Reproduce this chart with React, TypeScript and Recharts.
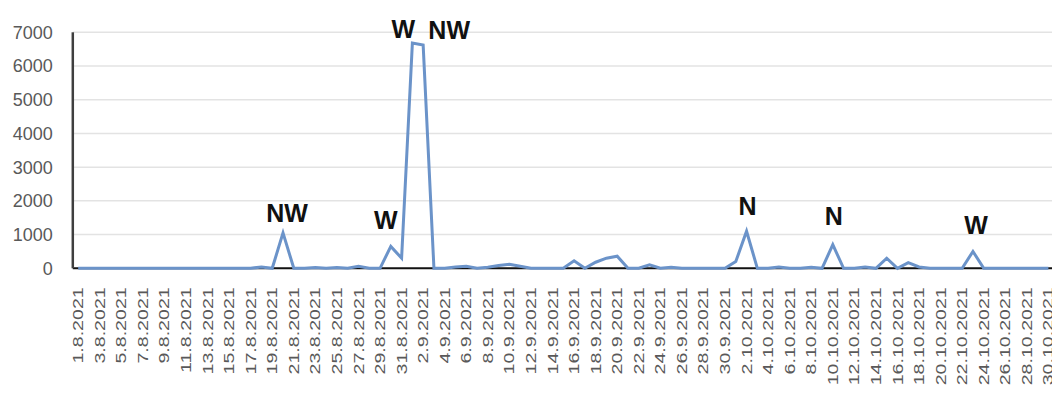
import { CartesianGrid, LabelList, Line, LineChart, XAxis, YAxis } from "recharts";

const days = [
  "1.8.2021", "2.8.2021", "3.8.2021", "4.8.2021", "5.8.2021", "6.8.2021", "7.8.2021", "8.8.2021",
  "9.8.2021", "10.8.2021", "11.8.2021", "12.8.2021", "13.8.2021", "14.8.2021", "15.8.2021", "16.8.2021",
  "17.8.2021", "18.8.2021", "19.8.2021", "20.8.2021", "21.8.2021", "22.8.2021", "23.8.2021", "24.8.2021",
  "25.8.2021", "26.8.2021", "27.8.2021", "28.8.2021", "29.8.2021", "30.8.2021", "31.8.2021",
  "1.9.2021", "2.9.2021", "3.9.2021", "4.9.2021", "5.9.2021", "6.9.2021", "7.9.2021", "8.9.2021",
  "9.9.2021", "10.9.2021", "11.9.2021", "12.9.2021", "13.9.2021", "14.9.2021", "15.9.2021", "16.9.2021",
  "17.9.2021", "18.9.2021", "19.9.2021", "20.9.2021", "21.9.2021", "22.9.2021", "23.9.2021", "24.9.2021",
  "25.9.2021", "26.9.2021", "27.9.2021", "28.9.2021", "29.9.2021", "30.9.2021",
  "1.10.2021", "2.10.2021", "3.10.2021", "4.10.2021", "5.10.2021", "6.10.2021", "7.10.2021", "8.10.2021",
  "9.10.2021", "10.10.2021", "11.10.2021", "12.10.2021", "13.10.2021", "14.10.2021", "15.10.2021",
  "16.10.2021", "17.10.2021", "18.10.2021", "19.10.2021", "20.10.2021", "21.10.2021", "22.10.2021",
  "23.10.2021", "24.10.2021", "25.10.2021", "26.10.2021", "27.10.2021", "28.10.2021", "29.10.2021",
  "30.10.2021",
];

// daily values
const augValues = [
  0, 0, 0, 0, 0, 0, 0, 0, 0, 0, 0, 0, 0, 0, 0, 0,
  0, 40, 0, 1050, 0, 0, 20, 0, 20, 0, 60, 0, 0, 650, 300,
];
const sepValues = [
  6680, 6620, 0, 0, 40, 60, 0, 30, 80, 120, 60, 0, 0, 0, 0,
  220, 0, 180, 300, 360, 0, 0, 100, 0, 30, 0, 0, 0, 0, 0,
];
const octValues = [
  200, 1100, 0, 0, 40, 0, 0, 30, 0, 700, 0, 0, 40, 0, 300,
  0, 170, 40, 0, 0, 0, 0, 500, 0, 0, 0, 0, 0, 0, 0,
];

const yTicks = [0, 1000, 2000, 3000, 4000, 5000, 6000, 7000];

// wind direction notes written over some peaks
const noteDays = ["20.8.2021", "30.8.2021", "1.9.2021", "2.9.2021", "2.10.2021", "10.10.2021", "23.10.2021"];
const noteTexts = ["NW", "W", "W", "NW", "N", "N", "W"];

const noteShift: Record<string, [number, number]> = {
  "20.8.2021": [4, -11],
  "30.8.2021": [-5, -17],
  "1.9.2021": [-9, -5],
  "2.9.2021": [26, -6],
  "2.10.2021": [1, -16],
  "10.10.2021": [1, -20],
  "23.10.2021": [3, -17],
};

const values = [...augValues, ...sepValues, ...octValues];

const data = days.map((day, i) => {
  const n = noteDays.indexOf(day);
  return { day, value: values[i], note: n >= 0 ? noteTexts[n] : "" };
});

const FONT = "'Liberation Sans', Arial, sans-serif";

function DayTick({ x, y, payload }: { x?: number; y?: number; payload?: { value: string } }) {
  // labels in the picture are drawn stretched along their length
  return (
    <g transform={`translate(${x} ${y}) rotate(-90) scale(1.4 1)`}>
      <text x={0} y={0} textAnchor="end" dy="0.36em" fill="#595959" fontSize={14} fontFamily={FONT}>
        {payload?.value}
      </text>
    </g>
  );
}

function Note(props: any) {
  const { x, y, value, index } = props;
  if (!value) return null;
  const [dx, dy] = noteShift[data[index].day] ?? [0, -12];
  return (
    <text
      x={x + dx}
      y={y + dy}
      textAnchor="middle"
      fill="#111"
      fontSize={25}
      fontWeight={700}
      fontFamily={FONT}
    >
      {value}
    </text>
  );
}

// grid rows; the bottom one doubles as the dark category axis, under the series
function GridRow(props: any) {
  const { x1, x2, y1, y, height } = props;
  const isBase = Math.abs(y1 - (y + height)) < 0.5;
  return (
    <line
      x1={x1}
      x2={x2}
      y1={y1}
      y2={y1}
      stroke={isBase ? "#111" : "#e3e3e3"}
      strokeWidth={isBase ? 2 : 1.5}
    />
  );
}

export default function App() {
  return (
    <div
      style={{
        position: "absolute",
        left: 0,
        top: 0,
        width: 1052,
        height: 401,
        overflow: "hidden",
        background: "#fff",
      }}
    >
      <LineChart
        width={1060}
        height={401}
        data={data}
        margin={{ top: 32.3, right: 6.2, bottom: 0, left: 0 }}
      >
        <CartesianGrid vertical={false} horizontal={(p: any) => <GridRow key={p.key} {...p} />} />
        <YAxis
          domain={[0, 7000]}
          ticks={yTicks}
          width={72.8}
          axisLine={{ stroke: "#3f3f3f", strokeWidth: 2.5 }}
          tickLine={false}
          tickSize={0}
          tickMargin={20}
          tick={{ fill: "#595959", fontSize: 18, fontFamily: FONT }}
          interval={0}
        />
        <XAxis
          dataKey="day"
          height={132.7}
          padding={{ left: 5.39, right: 5.39 }}
          interval={1}
          axisLine={false}
          tickLine={false}
          tickSize={0}
          tickMargin={19}
          tick={<DayTick />}
        />
        <Line
          type="linear"
          dataKey="value"
          stroke="#6b93c9"
          strokeWidth={3}
          dot={false}
          isAnimationActive={false}
        >
          <LabelList dataKey="note" content={<Note />} />
        </Line>
      </LineChart>
    </div>
  );
}
